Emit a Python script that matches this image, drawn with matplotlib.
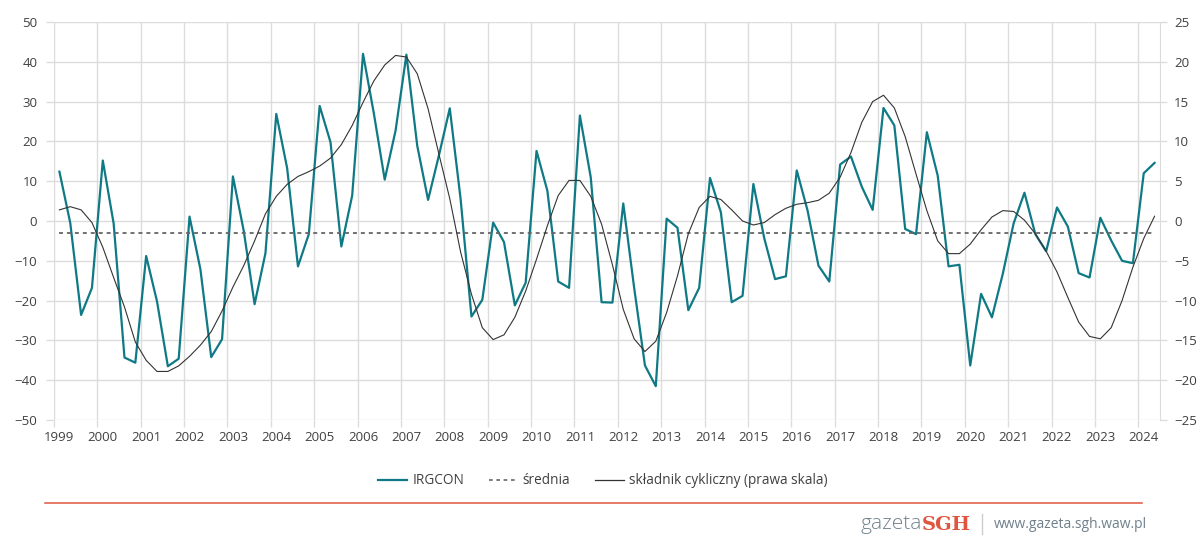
import numpy as np
import matplotlib
matplotlib.use("Agg")
from matplotlib import pyplot as plt
from matplotlib.lines import Line2D

plt.rcParams['font.family'] = ['Open Sans', 'DejaVu Sans']

# kwartały 1999Q1 - 2024Q2
start_year = 1999
irgcon = [
    12.4, -0.5, -23.6, -16.8,
    15.2, -0.6, -34.3, -35.6,
    -8.8, -20.2, -36.5, -34.6,
    1.1, -12.1, -34.2, -29.7,
    11.2, -2.5, -20.9, -8.1,
    26.9, 13.3, -11.4, -3.3,
    28.9, 19.8, -6.4, 6.4,
    42.0, 27.0, 10.4, 22.7,
    41.8, 18.9, 5.3, 16.5,
    28.3, 5.5, -24.0, -19.8,
    -0.4, -5.3, -21.2, -15.5,
    17.6, 7.6, -15.2, -16.8,
    26.5, 11.0, -20.4, -20.5,
    4.4, -16.7, -36.3, -41.5,
    0.6, -1.7, -22.4, -16.8,
    10.8, 2.2, -20.4, -18.8,
    9.3, -4.3, -14.6, -13.9,
    12.7, 2.6, -11.2, -15.2,
    14.2, 16.2, 8.6, 2.8,
    28.4, 24.0, -2.0, -3.3,
    22.3, 11.4, -11.4, -11.0,
    -36.3, -18.3, -24.2, -13.3,
    -0.6, 7.1, -3.3, -7.6,
    3.4, -1.4, -13.1, -14.2,
    0.8, -4.9, -10.0, -10.6,
    12.0, 14.6,
]
cykliczny = [
    1.4, 1.8, 1.4, -0.2,
    -3.3, -7.1, -10.8, -15.2,
    -17.5, -18.9, -18.9, -18.2,
    -17.0, -15.6, -13.9, -11.3,
    -8.3, -5.6, -2.5, 0.9,
    3.1, 4.6, 5.6, 6.2,
    6.9, 7.9, 9.6, 12.0,
    14.9, 17.6, 19.6, 20.8,
    20.6, 18.5, 14.1, 8.4,
    2.8, -3.9, -9.2, -13.4,
    -14.9, -14.3, -12.1, -8.8,
    -4.8, -0.6, 3.2, 5.1,
    5.1, 3.1, -0.4, -5.5,
    -11.1, -14.8, -16.4, -15.1,
    -11.5, -6.9, -1.6, 1.7,
    3.1, 2.7, 1.4, 0.0,
    -0.5, -0.2, 0.8, 1.6,
    2.1, 2.3, 2.6, 3.5,
    5.5, 8.6, 12.4, 15.0,
    15.8, 14.2, 10.6, 5.9,
    1.3, -2.5, -4.1, -4.1,
    -2.9, -1.1, 0.5, 1.3,
    1.2, 0.1, -1.6, -3.8,
    -6.4, -9.6, -12.7, -14.5,
    -14.8, -13.4, -10.0, -5.8,
    -2.2, 0.6,
]
srednia_val = -2.9
srednia = [srednia_val] * len(irgcon)
years = list(range(1999, 2025))

TEAL = '#0f7a85'
GRID = '#dcdcdc'
TXT = '#404040'

n = len(irgcon)
x = start_year + (np.arange(n) + 0.5) / 4.0

fig = plt.figure(figsize=(11.99, 5.5), dpi=100)
ax = fig.add_axes([54/1199, 1 - 420/550, (1160-54)/1199, (420-22)/550])
ax2 = ax.twinx()

ax.plot(x, irgcon, color=TEAL, lw=1.6, zorder=3)
ax.plot(x, srednia, color='#666666', lw=1.3, ls=(0, (2.2, 2.2)), zorder=3)
ax2.plot(x, cykliczny, color='#333333', lw=0.8, zorder=3)

ax.set_xlim(start_year, start_year + n / 4.0)
ax.set_ylim(-50, 50)
ax2.set_ylim(-25, 25)
ax.set_yticks(np.arange(-50, 51, 10))
ax2.set_yticks(np.arange(-25, 26, 5))

ax.set_xticks(years)
ax.set_xticklabels([])
ax.set_xticks([y + 0.125 for y in years], minor=True)
ax.set_xticklabels([str(y) for y in years], minor=True)
ax.tick_params(axis='x', which='minor', length=0, pad=8, labelsize=9.5, labelcolor=TXT)
ax.tick_params(axis='x', which='major', length=5, color=GRID, width=1)
ax.tick_params(axis='y', length=6, color=GRID, width=1, labelsize=9.5, labelcolor=TXT, pad=6)
ax2.tick_params(axis='y', length=5, color=GRID, width=1, labelsize=9.5, labelcolor=TXT, pad=5)

ax.grid(True, which='major', color=GRID, lw=1)
ax.set_axisbelow(True)
for a in (ax, ax2):
    for s in a.spines.values():
        s.set_visible(False)
ax2.spines['right'].set_visible(True)
ax2.spines['right'].set_color(GRID)

handles = [
    Line2D([], [], color=TEAL, lw=1.6),
    Line2D([], [], color='#666666', lw=1.2, ls=(0, (2.2, 2.2))),
    Line2D([], [], color='#333333', lw=0.9),
]
labels = ['IRGCON', 'średnia', 'składnik cykliczny (prawa skala)']
leg = fig.legend(handles, labels, loc='center', ncol=3, frameon=False,
                 bbox_to_anchor=(603/1199, 1 - 481/550), fontsize=9.8,
                 handlelength=2.1, handletextpad=0.4, columnspacing=1.8)
for t in leg.get_texts():
    t.set_color(TXT)

fig.add_artist(Line2D([45/1199, 1142/1199], [1 - 503/550, 1 - 503/550],
                      color='#e0553f', lw=1.1, transform=fig.transFigure))

fig.text(922/1199, 1 - 524/550, 'gazeta', ha='right', va='center',
         fontsize=15, color='#6f808c', fontweight='light')
fig.text(922/1199, 1 - 525/550, 'SGH', ha='left', va='center',
         fontsize=14, color='#e0553f', fontweight='bold', family='DejaVu Serif')
fig.add_artist(Line2D([982/1199, 982/1199], [1 - 514/550, 1 - 534/550],
                      color='#cccccc', lw=1, transform=fig.transFigure))
fig.text(994/1199, 1 - 524/550, 'www.gazeta.sgh.waw.pl', ha='left', va='center',
         fontsize=10, color='#6f808c')

fig.savefig('out.png', dpi=100)
